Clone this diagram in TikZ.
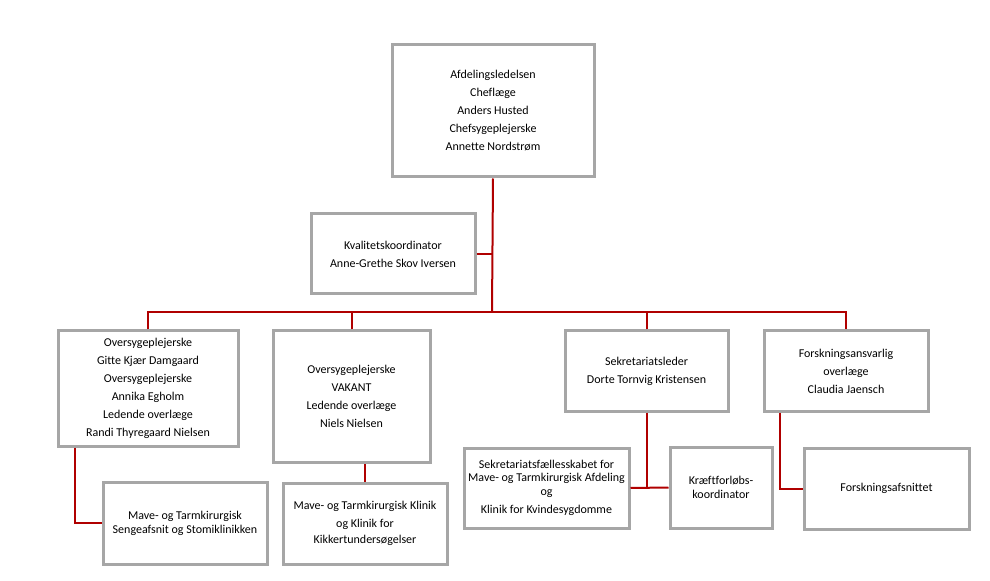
\documentclass[tikz,border=0pt]{standalone}
\usepackage{fontspec}
\setmainfont{Carlito}[Ligatures=NoCommon]
\definecolor{boxgray}{HTML}{A6A6A6}
\definecolor{linkred}{HTML}{B00000}
\begin{document}
\begin{tikzpicture}[x=0.75pt, y=-0.75pt,
    box/.style={draw=boxgray, line width=2.25pt, fill=white, align=center,
      inner sep=0pt, font=\fontsize{9}{13.5}\selectfont},
    link/.style={draw=linkred, line width=1.5pt}]
    \useasboundingbox (0, 0) rectangle (990, 581);

    \node[box, minimum width=151.5pt, minimum height=99pt] (top) at (493, 111)
      {Afdelingsledelsen\\Cheflæge\\Anders Husted\\Chefsygeplejerske\\Annette Nordstrøm};
    \node[box, minimum width=123pt, minimum height=60pt] (kval) at (393, 254)
      {Kvalitetskoordinator\\Anne-Grethe Skov Iversen};

    \node[box, minimum width=135pt, minimum height=86.25pt] (klinA) at (148, 388.5)
      {Oversygeplejerske\\Gitte Kjær Damgaard\\Oversygeplejerske\\Annika Egholm\\Ledende overlæge\\Randi Thyregaard Nielsen};
    \node[box, minimum width=117.75pt, minimum height=98.25pt] (klinB) at (351.5, 396.5)
      {Oversygeplejerske\\VAKANT\\Ledende overlæge\\Niels Nielsen};
    \node[box, minimum width=122.25pt, minimum height=60pt] (sekr) at (646.5, 371)
      {Sekretariatsleder\\Dorte Tornvig Kristensen};
    \node[box, minimum width=123pt, minimum height=60pt] (forsk) at (846, 371)
      {Forskningsansvarlig\\overlæge\\Claudia Jaensch};

    \node[box, minimum width=123pt, minimum height=61.5pt] (sengeaf) at (185, 523)
      {Mave- og Tarmkirurgisk\\[-3pt]Sengeafsnit og Stomiklinikken};
    \node[box, minimum width=123pt, minimum height=60.75pt] (klinik) at (365, 523.5)
      {Mave- og Tarmkirurgisk Klinik\\og Klinik for\\[-2pt]Kikkertundersøgelser};
    \node[box, minimum width=123.75pt, minimum height=60pt] (faelles) at (546.5, 488)
      {Sekretariatsfællesskabet for\\[-3.5pt]Mave- og Tarmkirurgisk Afdeling\\[-3pt]og\\Klinik for Kvindesygdomme};
    \node[box, minimum width=76.5pt, minimum height=60.75pt] (kraeft) at (721, 487.5)
      {Kræftforløbs-\\[-3.5pt]koordinator};
    \node[box, minimum width=123.75pt, minimum height=60.75pt] (afsnit) at (886.5, 488.5)
      {Forskningsafsnittet};

    \coordinate (bar) at (492, 312);
    \path[link] (top.south) -- (bar);
    \path[link] (kval.east) -- (kval.east -| bar);
    \path[link] (klinA.north) |- (bar) -| (forsk.north);
    \path[link] (klinB.north) -- (klinB.north |- bar);
    \path[link] (sekr.north) -- (sekr.north |- bar);

    \path[link] ([xshift=13.5pt]klinA.south west) |- (sengeaf.west);
    \path[link] (klinik.north) -- (klinik.north |- klinB.south);
    \path[link] (sekr.south) -- (sekr.south |- faelles.east);
    \path[link] (faelles.east) -- (kraeft.west);
    \path[link] ([xshift=12.75pt]forsk.south west) |- (afsnit.west);
  \end{tikzpicture}
\end{document}
